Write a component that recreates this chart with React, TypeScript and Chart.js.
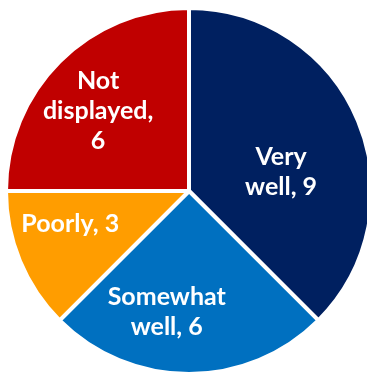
import React, { useEffect, useRef } from "react";
import { Chart, registerables } from "chart.js";

Chart.register(...registerables);

const categories = ["Very well", "Somewhat well", "Poorly", "Not displayed"];
const values = [9, 6, 3, 6];
const colors = ["#002060", "#0070C0", "#FF9D00", "#C00000"];
// label text lines (category wrapped, value appended)
const labelLines = [
  ["Very", "well, 9"],
  ["Somewhat", "well, 6"],
  ["Poorly, 3"],
  ["Not", "displayed,", "6"],
];
// label placement: angle shift from slice middle (deg), radius fraction
const labelPlacement = [
  { shift: 10.7, frac: 0.514 },
  { shift: 10.4, frac: 0.674 },
  { shift: 6.8, frac: 0.674 },
  { shift: -3.7, frac: 0.661 },
];

const labelPlugin = {
  id: "sliceLabels",
  afterDatasetsDraw(chart: any) {
    const meta = chart.getDatasetMeta(0);
    const ctx = chart.ctx;
    ctx.save();
    ctx.fillStyle = "#ffffff";
    ctx.font = "bold 25px Lato";
    ctx.textAlign = "center";
    ctx.textBaseline = "middle";
    const lh = 30;
    meta.data.forEach((arc: any, i: number) => {
      const p = arc.getProps(["x", "y", "startAngle", "endAngle", "outerRadius"], true);
      const mid = (p.startAngle + p.endAngle) / 2 + (labelPlacement[i].shift * Math.PI) / 180;
      const r = p.outerRadius * labelPlacement[i].frac;
      const cx = p.x + Math.cos(mid) * r;
      const cy = p.y + Math.sin(mid) * r;
      const lines = labelLines[i];
      const y0 = cy - ((lines.length - 1) * lh) / 2;
      lines.forEach((t, k) => {
        ctx.fillText(t, cx, y0 + k * lh);
      });
    });
    ctx.restore();
  },
};

export default function App() {
  const ref = useRef<HTMLCanvasElement | null>(null);
  useEffect(() => {
    if (!ref.current) return;
    const chart = new Chart(ref.current, {
      type: "pie",
      data: {
        labels: categories,
        datasets: [
          {
            data: values,
            backgroundColor: colors,
            borderColor: "#ffffff",
            borderWidth: 4,
            radius: 183,
          } as any,
        ],
      },
      options: {
        responsive: false,
        animation: false,
        layout: { padding: 0 },
        plugins: {
          legend: { display: false },
          tooltip: { enabled: false },
        },
      },
      plugins: [labelPlugin],
    });
    return () => chart.destroy();
  }, []);
  return (
    <div
      style={{
        position: "fixed",
        left: 0,
        top: 0,
        width: 367,
        height: 372,
        overflow: "hidden",
        background: "#ffffff",
      }}
    >
      <canvas ref={ref} width={378} height={382} style={{ width: 378, height: 382, display: "block" }} />
    </div>
  );
}
